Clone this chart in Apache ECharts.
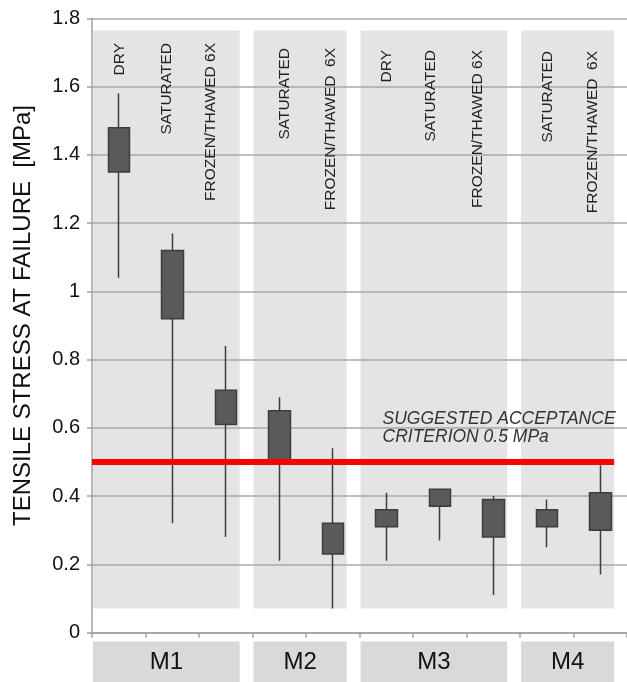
<!DOCTYPE html>
<html>
<head>
<meta charset="utf-8">
<script src="https://cdn.jsdelivr.net/npm/echarts@6/dist/echarts.min.js"></script>
<style>
  html, body { margin: 0; padding: 0; background: #ffffff; }
  #chart { width: 627px; height: 682px; }
</style>
</head>
<body>
<div id="chart"></div>
<script>
// Tensile stress at failure per mix and conditioning
const mixes      = ['M1', 'M1', 'M1', 'M2', 'M2', 'M3', 'M3', 'M3', 'M4', 'M4'];
const conditions = ['DRY', 'SATURATED', 'FROZEN/THAWED 6X',
                    'SATURATED', 'FROZEN/THAWED  6X',
                    'DRY', 'SATURATED', 'FROZEN/THAWED 6X',
                    'SATURATED', 'FROZEN/THAWED  6X'];
const whiskerHigh = [1.58, 1.17, 0.84, 0.69, 0.54, 0.41, 0.42, 0.40, 0.39, 0.49];
const boxTop      = [1.48, 1.12, 0.71, 0.65, 0.32, 0.36, 0.42, 0.39, 0.36, 0.41];
const boxBottom   = [1.35, 0.92, 0.61, 0.50, 0.23, 0.31, 0.37, 0.28, 0.31, 0.30];
const whiskerLow  = [1.04, 0.32, 0.28, 0.21, 0.07, 0.21, 0.27, 0.11, 0.25, 0.17];
const yTicks = [0, 0.2, 0.4, 0.6, 0.8, 1, 1.2, 1.4, 1.6, 1.8];
const criterion = 0.5;   // MPa

// group spans, derived from how many conditions each mix has
const groups = [...new Set(mixes)];
const groupCounts = groups.map(g => mixes.filter(m => m === g).length);

// layout / style constants
const FONT = '"Liberation Sans", Arial, Helvetica, sans-serif';
const bandInsetStart = 0.02, bandInsetEnd = 0.24;  // in category units
const bandFloor = 0.07, bandCeil = 1.765;         // vertical extent of shaded panels
const criterionLabelAt = 5.43;                     // category units
// small hand placements of the rotated condition labels: [dx px, top px]
const labelPlace = [[1, 45], [-6, 45], [-15, 45], [5, 50], [-2.5, 50],
                    [0, 52], [-9, 52], [-16, 52], [1, 53], [-7.5, 53]];

const categoryKeys = mixes.map((m, i) => m + ' ' + conditions[i] + ' #' + i);
const candleData = mixes.map((m, i) => [boxBottom[i], boxTop[i], whiskerLow[i], whiskerHigh[i]]);

let start = 0;
const bandData = groups.map((g, gi) => {
  const s = start, e = start + groupCounts[gi];
  start = e;
  return [s + bandInsetStart, e - bandInsetEnd, gi];
});
const lastBandEnd = bandData[bandData.length - 1][1];

const chart = echarts.init(document.getElementById('chart'), null, { renderer: 'canvas' });

chart.setOption({
  animation: false,
  backgroundColor: '#ffffff',
  grid: { left: 92, top: 18.5, width: 540, height: 614, containLabel: false },
  xAxis: [
    {
      type: 'category',
      data: categoryKeys,
      boundaryGap: true,
      axisLine: { show: true, lineStyle: { color: '#a0a0a0', width: 1.5 } },
      axisTick: { show: true, interval: 0, length: 5, inside: false,
                  lineStyle: { color: '#a0a0a0', width: 1.5 } },
      axisLabel: { show: false, interval: 0 },
      splitLine: { show: false }
    },
    {
      type: 'value', min: 0, max: mixes.length, show: false,
      splitLine: { show: false }
    }
  ],
  yAxis: {
    type: 'value',
    min: yTicks[0], max: yTicks[yTicks.length - 1], interval: 0.2,
    axisLine: { show: true, lineStyle: { color: '#a0a0a0', width: 1.5 } },
    axisTick: { show: true, length: 5, lineStyle: { color: '#a0a0a0', width: 1.5 } },
    axisLabel: { color: '#111', fontSize: 20, fontFamily: FONT, margin: 12 },
    splitLine: { show: true, lineStyle: { color: '#a8a8a8', width: 1.5 } }
  },
  graphic: [{
    type: 'text',
    x: 23, y: 315.5,
    rotation: Math.PI / 2,
    style: {
      text: 'TENSILE STRESS AT FAILURE  [MPa]',
      font: '24px ' + FONT,
      fill: '#111',
      align: 'center',
      verticalAlign: 'middle'
    }
  }],
  series: [
    {
      // shaded panels and mix labels under the axis
      type: 'custom',
      xAxisIndex: 1,
      z: -1,
      silent: true,
      data: bandData,
      renderItem: function (params, api) {
        const s = api.value(0), e = api.value(1), gi = api.value(2);
        const tl = api.coord([s, bandCeil]);
        const br = api.coord([e, bandFloor]);
        const base = api.coord([s, 0])[1];
        return {
          type: 'group',
          children: [
            { type: 'rect', shape: { x: tl[0], y: tl[1], width: br[0] - tl[0], height: br[1] - tl[1] },
              style: { fill: '#e4e4e4' } },
            { type: 'rect', shape: { x: tl[0], y: base + 9, width: br[0] - tl[0], height: 60 },
              style: { fill: '#d9d9d9' } },
            { type: 'text', x: (tl[0] + br[0]) / 2, y: base + 30,
              style: { text: groups[gi], font: '24px ' + FONT, fill: '#111',
                       align: 'center', verticalAlign: 'middle' } }
          ]
        };
      }
    },
    {
      type: 'candlestick',
      xAxisIndex: 0,
      barWidth: 22,
      data: candleData,
      z: 3,
      itemStyle: {
        color: '#5a5a5a', color0: '#5a5a5a',
        borderColor: '#3d3d3d', borderColor0: '#3d3d3d',
        borderWidth: 1.5
      }
    },
    {
      // rotated condition labels at the top of each panel
      type: 'custom',
      xAxisIndex: 0,
      z: 4,
      silent: true,
      data: conditions.map((c, i) => [i, yTicks[yTicks.length - 1]]),
      renderItem: function (params, api) {
        const i = params.dataIndex;
        const p = api.coord([api.value(0), api.value(1)]);
        return {
          type: 'text',
          x: p[0] + labelPlace[i][0],
          y: labelPlace[i][1] - 2,
          rotation: Math.PI / 2,
          style: { text: conditions[i], font: '15.5px ' + FONT, fill: '#222',
                   align: 'right', verticalAlign: 'middle' }
        };
      }
    },
    {
      // acceptance criterion line with its note
      type: 'custom',
      xAxisIndex: 1,
      z: 5,
      silent: true,
      data: [[0, lastBandEnd, criterion]],
      renderItem: function (params, api) {
        const a = api.coord([api.value(0), api.value(2)]);
        const b = api.coord([api.value(1), api.value(2)]);
        const t = api.coord([criterionLabelAt, api.value(2)]);
        return {
          type: 'group',
          children: [
            { type: 'line', shape: { x1: a[0], y1: a[1], x2: b[0], y2: b[1] },
              style: { stroke: '#ff0000', lineWidth: 6 } },
            { type: 'text', x: t[0], y: t[1] - 16,
              style: { text: 'SUGGESTED ACCEPTANCE\nCRITERION 0.5 MPa',
                       font: 'italic 17.5px ' + FONT, fill: '#333', lineHeight: 18,
                       align: 'left', verticalAlign: 'bottom' } }
          ]
        };
      }
    }
  ]
});
</script>
</body>
</html>
